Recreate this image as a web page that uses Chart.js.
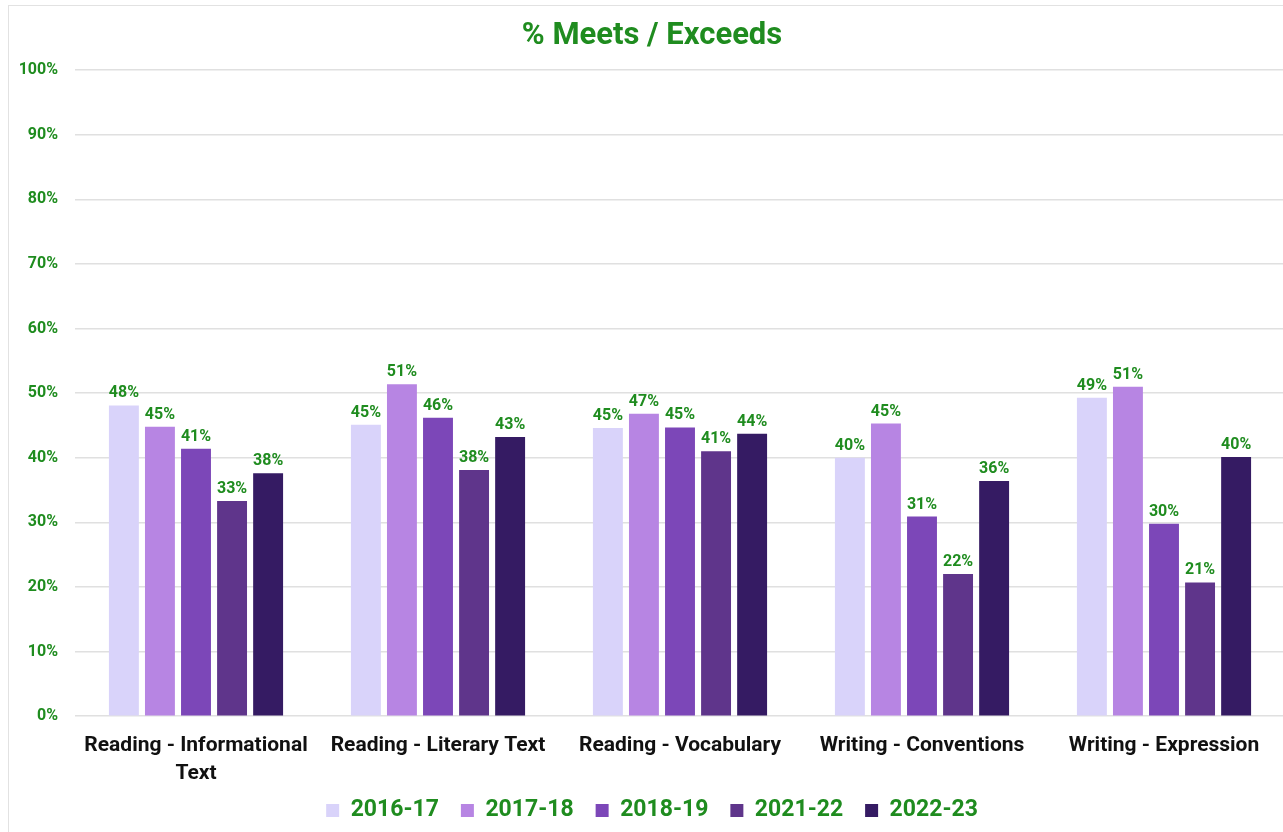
<!DOCTYPE html>
<html lang="en">
<head>
    <meta charset="UTF-8">
    <title>% Meets / Exceeds</title>
    <style>
        body {
            margin: 0;
            padding: 0;
            background-color: #ffffff;
            overflow: hidden;
            font-family: 'Roboto', sans-serif;
        }
        .frame {
            position: absolute;
            left: 8px;
            top: 5px;
            width: 1290px;
            height: 840px;
            border: 1px solid #e2e2e2;
            box-sizing: border-box;
        }
        .chart-box {
            position: absolute;
            left: 0;
            top: 0;
            width: 1285px;
            height: 851px;
        }
    </style>
</head>
<body>
    <div class="frame"></div>
    <div class="chart-box">
        <canvas id="myChart"></canvas>
    </div>

    <script src="https://cdn.jsdelivr.net/npm/chart.js"></script>
    <script>
        // Data
        const categories = [
            ['Reading - Informational', 'Text'],
            'Reading - Literary Text',
            'Reading - Vocabulary',
            'Writing - Conventions',
            'Writing - Expression'
        ];
        const years = ['2016-17', '2017-18', '2018-19', '2021-22', '2022-23'];
        const values2016 = [48.1, 45.1, 44.6, 40.0, 49.3];
        const values2017 = [44.8, 51.4, 46.8, 45.3, 51.0];
        const values2018 = [41.4, 46.2, 44.7, 30.9, 29.8];
        const values2021 = [33.3, 38.1, 41.0, 22.0, 20.7];
        const values2022 = [37.6, 43.2, 43.7, 36.4, 40.1];
        const yTicks = [0, 10, 20, 30, 40, 50, 60, 70, 80, 90, 100];

        const colors = ['#d9d3fa', '#b785e3', '#7c47b8', '#5f358b', '#351b63'];
        const green = '#1f8c1f';

        const seriesValues = [values2016, values2017, values2018, values2021, values2022];

        // Percent labels above the bars
        const barLabels = {
            id: 'barLabels',
            afterDatasetsDraw(chart) {
                const ctx = chart.ctx;
                ctx.save();
                ctx.font = 'bold 16px Roboto';
                ctx.fillStyle = green;
                ctx.textAlign = 'center';
                ctx.textBaseline = 'alphabetic';
                chart.data.datasets.forEach((ds, i) => {
                    chart.getDatasetMeta(i).data.forEach((bar, j) => {
                        ctx.fillText(Math.round(ds.data[j]) + '%', bar.x, bar.y - 8);
                    });
                });
                ctx.restore();
            }
        };

        // Pull the legend up a bit, into the empty space under the axis labels
        const legendNudge = {
            id: 'legendNudge',
            afterLayout(chart) {
                chart.legend.top -= 19;
                chart.legend.bottom -= 19;
            }
        };

        const ctx = document.getElementById('myChart').getContext('2d');
        const chart = new Chart(ctx, {
            type: 'bar',
            data: {
                labels: categories,
                datasets: years.map((y, i) => ({
                    label: y,
                    data: seriesValues[i],
                    backgroundColor: colors[i],
                    barPercentage: 0.83,
                    categoryPercentage: 0.745
                }))
            },
            options: {
                responsive: true,
                maintainAspectRatio: false,
                animation: false,
                layout: {
                    padding: { left: 19, right: 0, top: 18, bottom: 0 }
                },
                plugins: {
                    title: {
                        display: true,
                        text: '% Meets / Exceeds',
                        color: green,
                        font: { family: 'Roboto', size: 31, weight: 'bold', lineHeight: 1.2 },
                        padding: { top: 0, bottom: 15 }
                    },
                    legend: {
                        position: 'bottom',
                        labels: {
                            color: green,
                            font: { family: 'Roboto', size: 23, weight: 'bold' },
                            boxWidth: 13,
                            boxHeight: 13,
                            padding: 22
                        }
                    },
                    tooltip: { enabled: false }
                },
                scales: {
                    x: {
                        grid: { display: false },
                        border: { display: false },
                        ticks: {
                            color: '#111111',
                            font: { family: 'Roboto', size: 21, weight: 'bold', lineHeight: 1.33 },
                            maxRotation: 0,
                            autoSkip: false,
                            padding: 8
                        }
                    },
                    y: {
                        min: 0,
                        max: 100,
                        afterBuildTicks(scale) {
                            scale.ticks = yTicks.map(v => ({ value: v }));
                        },
                        afterFit(scale) {
                            scale.width = 56;
                        },
                        grid: { color: '#e0e0e0', lineWidth: 1.5, drawTicks: false },
                        border: { display: false },
                        ticks: {
                            color: green,
                            font: { family: 'Roboto', size: 16, weight: 'bold' },
                            padding: 17,
                            callback: v => v + '%'
                        }
                    }
                }
            },
            plugins: [barLabels, legendNudge]
        });
    </script>
</body>
</html>
